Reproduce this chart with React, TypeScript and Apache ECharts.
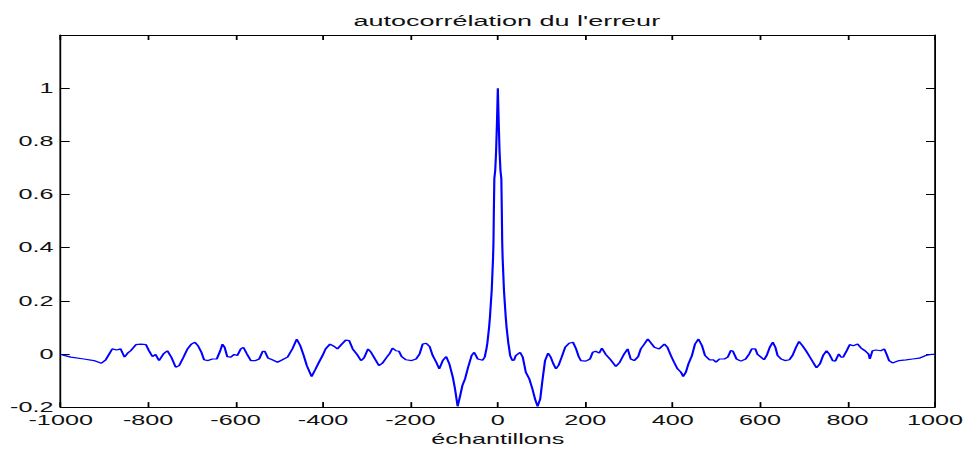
import { useEffect, useRef } from "react";
import * as echarts from "echarts";

// ---- texts ----
const titleText = "autocorrélation du l'erreur";
const xAxisName = "échantillons";

// ---- axes ----
const xMin = -1000;
const xMax = 1000;
const xStep = 200;
const yMin = -0.2;
const yMax = 1.2;
const yStep = 0.2;
const xTickLabels = ["-1000", "-800", "-600", "-400", "-200", "0", "200", "400", "600", "800", "1000"];
const yTickLabels = ["-0.2", "0", "0.2", "0.4", "0.6", "0.8", "1", ""];

// ---- series: [lag, autocorrelation] ----
const leftSide: [number, number][] = [
  [-1000, -0.002], [-977, -0.012], [-947, -0.019], [-924, -0.025], [-907, -0.035], [-897, -0.022],
  [-889, 0.0], [-882, 0.019], [-872, 0.015], [-863, 0.019], [-854, -0.012], [-847, 0.003],
  [-840, 0.012], [-828, 0.035], [-817, 0.037], [-805, 0.035], [-798, 0.012], [-790, -0.01],
  [-783, -0.002], [-775, -0.025], [-765, 0.0], [-756, 0.012], [-747, -0.012], [-737, -0.05],
  [-729, -0.044], [-719, -0.012], [-710, 0.019], [-701, 0.037], [-693, 0.044], [-686, 0.031],
  [-678, 0.006], [-672, -0.022], [-663, -0.025], [-653, -0.019], [-643, -0.019], [-635, 0.012],
  [-630, 0.037], [-625, 0.025], [-619, -0.01], [-611, -0.012], [-603, -0.002], [-596, -0.006],
  [-588, 0.019], [-582, 0.025], [-574, 0.0], [-565, -0.025], [-554, -0.025], [-546, -0.019],
  [-538, 0.01], [-533, 0.01], [-526, -0.015], [-516, -0.022], [-504, -0.031], [-493, -0.022],
  [-481, -0.012], [-470, 0.019], [-460, 0.056], [-452, 0.031], [-444, -0.006], [-437, -0.044],
  [-426, -0.085], [-418, -0.06], [-411, -0.037], [-401, -0.006], [-394, 0.019], [-384, 0.037],
  [-374, 0.028], [-367, 0.019], [-358, 0.035], [-348, 0.052], [-340, 0.05], [-332, 0.019],
  [-322, -0.002], [-313, -0.025], [-306, -0.015], [-297, 0.019], [-290, 0.006], [-281, -0.019],
  [-272, -0.044], [-264, -0.035], [-254, -0.012], [-247, 0.003], [-241, 0.022], [-233, 0.012],
  [-226, 0.01], [-220, -0.01], [-210, -0.022], [-197, -0.025], [-187, -0.019], [-179, 0.0],
  [-172, 0.037], [-164, 0.04], [-156, 0.028], [-149, -0.006], [-141, -0.031], [-134, -0.056],
  [-126, -0.025], [-118, -0.01], [-111, -0.037], [-103, -0.087], [-98, -0.131], [-92, -0.197],
  [-86, -0.156], [-81, -0.118], [-75, -0.094], [-68, -0.05], [-60, -0.006], [-54, 0.006],
  [-46, -0.019], [-39, -0.022], [-35, -0.024], [-30, -0.012],
];

const centralPeak: [number, number][] = [
  [-26, 0.02], [-24, 0.04], [-22, 0.07], [-20, 0.1], [-18, 0.14], [-16, 0.19], [-14, 0.24],
  [-12, 0.32], [-11, 0.36], [-10, 0.42], [-9, 0.55], [-8, 0.66], [-6, 0.69], [-4, 0.76],
  [-2, 0.87], [0, 1.0], [2, 0.87], [4, 0.76], [6, 0.69], [8, 0.66], [9, 0.55], [10, 0.42],
  [11, 0.36], [12, 0.32], [14, 0.24], [16, 0.19], [18, 0.14], [20, 0.1], [22, 0.07],
  [24, 0.04], [26, 0.02],
];

const rightSide: [number, number][] = [
  [28, -0.005], [33, -0.024], [37, -0.023], [41, -0.006], [51, 0.006], [57, -0.012],
  [64, -0.069], [72, -0.094], [79, -0.131], [85, -0.169], [91, -0.197], [97, -0.169],
  [102, -0.1], [108, -0.025], [115, 0.003], [121, -0.012], [127, -0.037], [133, -0.056],
  [139, -0.043], [146, -0.012], [154, 0.025], [163, 0.04], [172, 0.044], [179, 0.019],
  [185, -0.01], [190, -0.025], [201, -0.027], [211, -0.019], [217, 0.006], [224, 0.01],
  [232, 0.003], [238, 0.022], [247, -0.002], [258, -0.022], [270, -0.047], [279, -0.031],
  [289, 0.0], [297, 0.019], [304, -0.019], [312, -0.025], [321, -0.01], [327, 0.019],
  [335, 0.037], [343, 0.056], [349, 0.044], [358, 0.025], [369, 0.019], [381, 0.037],
  [388, 0.025], [396, -0.006], [403, -0.031], [411, -0.056], [419, -0.069], [424, -0.085],
  [430, -0.069], [436, -0.037], [444, -0.006], [451, 0.037], [459, 0.056], [467, 0.031],
  [474, -0.006], [484, -0.022], [493, -0.022], [499, -0.031], [507, -0.019], [518, -0.019],
  [526, -0.012], [533, 0.013], [538, 0.01], [546, -0.019], [556, -0.027], [567, -0.019],
  [575, 0.0], [581, 0.019], [589, 0.019], [594, -0.002], [602, -0.012], [609, -0.022],
  [615, -0.006], [622, 0.025], [629, 0.044], [635, 0.025], [640, -0.006], [648, -0.019],
  [657, -0.025], [667, -0.022], [674, -0.006], [682, 0.025], [689, 0.047], [697, 0.031],
  [705, 0.012], [714, -0.012], [721, -0.031], [729, -0.052], [737, -0.037], [744, -0.006],
  [752, 0.012], [758, 0.0], [766, -0.025], [772, -0.027], [780, 0.0], [785, -0.012],
  [790, -0.012], [798, 0.012], [805, 0.035], [813, 0.031], [823, 0.037], [831, 0.022],
  [840, 0.012], [848, 0.0], [851, -0.019], [857, 0.012], [865, 0.015], [876, 0.012],
  [884, 0.019], [889, 0.0], [895, -0.025], [903, -0.034], [918, -0.025], [934, -0.022],
  [949, -0.019], [964, -0.016], [979, -0.006], [991, -0.002], [1000, -0.002],
];

// The reference figure is stretched horizontally; draw at a narrower width and stretch.
const STRETCH = 1.8;
const PAGE_W = 968;
const PAGE_H = 451;
const INNER_W = PAGE_W / STRETCH;

const FONT = "Liberation Sans, Arial, Helvetica, sans-serif";
const TEXT_COLOR = "#111";

export default function App() {
  const ref = useRef<HTMLDivElement>(null);

  useEffect(() => {
    if (!ref.current) return;
    const chart = echarts.init(ref.current, null, { renderer: "svg" });
    const data = [...leftSide, ...centralPeak, ...rightSide];

    const frameAxisCommon = {
      axisLine: { show: true, onZero: false, lineStyle: { color: "#000", width: 1 } },
      axisTick: { show: true, inside: true, length: 5, lineStyle: { color: "#000", width: 1 } },
      splitLine: { show: false },
    };

    chart.setOption({
      animation: false,
      backgroundColor: "#fff",
      title: {
        text: titleText,
        left: 497.8 / STRETCH,
        textAlign: "center",
        top: 8,
        textStyle: { fontFamily: FONT, fontSize: 15, fontWeight: "normal", color: TEXT_COLOR },
      },
      grid: {
        left: 60.7 / STRETCH,
        right: (PAGE_W - 935) / STRETCH,
        top: 35,
        bottom: PAGE_H - 410,
        containLabel: false,
      },
      xAxis: [
        {
          type: "value",
          min: xMin,
          max: xMax,
          interval: xStep,
          position: "bottom",
          name: xAxisName,
          nameLocation: "middle",
          nameGap: 20,
          nameTextStyle: { fontFamily: FONT, fontSize: 14, color: TEXT_COLOR },
          ...frameAxisCommon,
          axisLabel: {
            show: true,
            margin: 6,
            lineHeight: 14,
            fontFamily: FONT,
            fontSize: 14,
            color: TEXT_COLOR,
            showMinLabel: true,
            showMaxLabel: true,
            formatter: (_v: number, i: number) => xTickLabels[i] ?? "",
          },
        },
        {
          type: "value",
          min: xMin,
          max: xMax,
          interval: xStep,
          position: "top",
          ...frameAxisCommon,
          axisLabel: { show: false },
        },
      ],
      yAxis: [
        {
          type: "value",
          min: yMin,
          max: yMax,
          interval: yStep,
          position: "left",
          ...frameAxisCommon,
          axisLabel: {
            show: true,
            margin: 4,
            lineHeight: 11,
            fontFamily: FONT,
            fontSize: 14,
            color: TEXT_COLOR,
            showMinLabel: true,
            showMaxLabel: true,
            formatter: (_v: number, i: number) => yTickLabels[i] ?? "",
          },
        },
        {
          type: "value",
          min: yMin,
          max: yMax,
          interval: yStep,
          position: "right",
          ...frameAxisCommon,
          axisLabel: { show: false },
        },
      ],
      series: [
        {
          type: "line",
          xAxisIndex: 0,
          yAxisIndex: 0,
          data,
          showSymbol: false,
          symbol: "none",
          smooth: false,
          lineStyle: { color: "#0000ff", width: 1.2 },
          clip: true,
        },
      ],
    });

    return () => chart.dispose();
  }, []);

  return (
    <div
      ref={ref}
      style={{
        position: "fixed",
        left: 0,
        top: 0,
        width: `${INNER_W}px`,
        height: `${PAGE_H}px`,
        transform: `scaleX(${STRETCH})`,
        transformOrigin: "0 0",
      }}
    />
  );
}
